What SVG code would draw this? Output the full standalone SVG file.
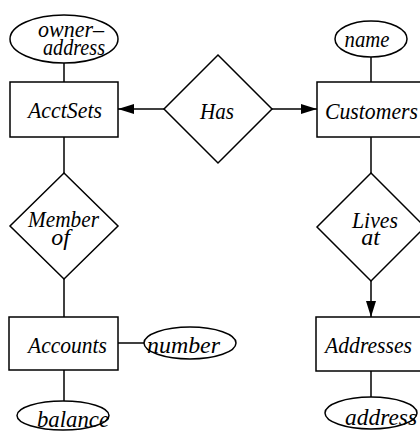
<svg xmlns="http://www.w3.org/2000/svg" width="420" height="432" viewBox="0 0 420 432">
<style>
.n rect,.n ellipse,.n polygon{fill:#fff;stroke:#000;stroke-width:1.5}
text{font-family:"Liberation Serif","Times New Roman",serif;font-style:italic;font-size:24px;text-anchor:middle;fill:#000}
.c line{stroke:#000;stroke-width:1.5;fill:none}
</style>
<defs>
<marker id="ah" markerUnits="userSpaceOnUse" markerWidth="16" markerHeight="10" refX="16" refY="5" orient="auto"><path d="M0,0 L16,5 L0,10 z" fill="#000"/></marker>
</defs>
<g id="connectors" class="c">
<line x1="64" y1="63" x2="64" y2="82"/>
<line x1="64" y1="137" x2="64" y2="173"/>
<line x1="64" y1="279" x2="64" y2="317"/>
<line x1="64" y1="370" x2="64" y2="401"/>
<line x1="118" y1="343" x2="144" y2="343"/>
<line x1="164" y1="109" x2="118" y2="109" marker-end="url(#ah)"/>
<line x1="272" y1="109" x2="317" y2="109" marker-end="url(#ah)"/>
<line x1="371" y1="57" x2="371" y2="82"/>
<line x1="371" y1="137" x2="371" y2="173"/>
<line x1="371" y1="281" x2="371" y2="317" marker-end="url(#ah)"/>
<line x1="371" y1="371" x2="371" y2="397"/>
</g>
<g id="owner-address" class="n"><ellipse cx="64" cy="39" rx="54" ry="24"/><text x="71" y="37" textLength="66" lengthAdjust="spacingAndGlyphs">owner–</text><text x="74" y="55" textLength="62" lengthAdjust="spacingAndGlyphs">address</text></g>
<g id="AcctSets" class="n"><rect x="10" y="82" width="108" height="55"/><text x="65" y="118" textLength="74" lengthAdjust="spacingAndGlyphs">AcctSets</text></g>
<g id="Has" class="n"><polygon points="218,55 272,109 218,163 164,109"/><text x="217" y="119" textLength="34" lengthAdjust="spacingAndGlyphs">Has</text></g>
<g id="Customers" class="n"><rect x="317" y="82" width="108" height="55"/><text x="371.5" y="119" textLength="93" lengthAdjust="spacingAndGlyphs">Customers</text></g>
<g id="name" class="n"><ellipse cx="371" cy="39" rx="36" ry="18"/><text x="367" y="47" textLength="45" lengthAdjust="spacingAndGlyphs">name</text></g>
<g id="MemberOf" class="n"><polygon points="64,173 118,226 64,279 10,226"/><text x="63.5" y="227" textLength="71" lengthAdjust="spacingAndGlyphs">Member</text><text x="60.5" y="245">of</text></g>
<g id="LivesAt" class="n"><polygon points="371,173 425,227 371,281 317,227"/><text x="375" y="228" textLength="46" lengthAdjust="spacingAndGlyphs">Lives</text><text x="370.5" y="245">at</text></g>
<g id="Accounts" class="n"><rect x="9" y="317" width="109" height="53"/><text x="67.5" y="353" textLength="79" lengthAdjust="spacingAndGlyphs">Accounts</text></g>
<g id="number" class="n"><ellipse cx="190" cy="343" rx="46" ry="16"/><text x="183.5" y="353" textLength="73" lengthAdjust="spacingAndGlyphs">number</text></g>
<g id="balance" class="n"><ellipse cx="63" cy="415.5" rx="46" ry="14.5"/><text x="73" y="427" textLength="72" lengthAdjust="spacingAndGlyphs">balance</text></g>
<g id="Addresses" class="n"><rect x="316" y="317" width="109" height="54"/><text x="368.5" y="353" textLength="87" lengthAdjust="spacingAndGlyphs">Addresses</text></g>
<g id="address" class="n"><ellipse cx="371" cy="413" rx="46" ry="16"/><text x="381" y="425" textLength="72" lengthAdjust="spacingAndGlyphs">address</text></g>
</svg>
